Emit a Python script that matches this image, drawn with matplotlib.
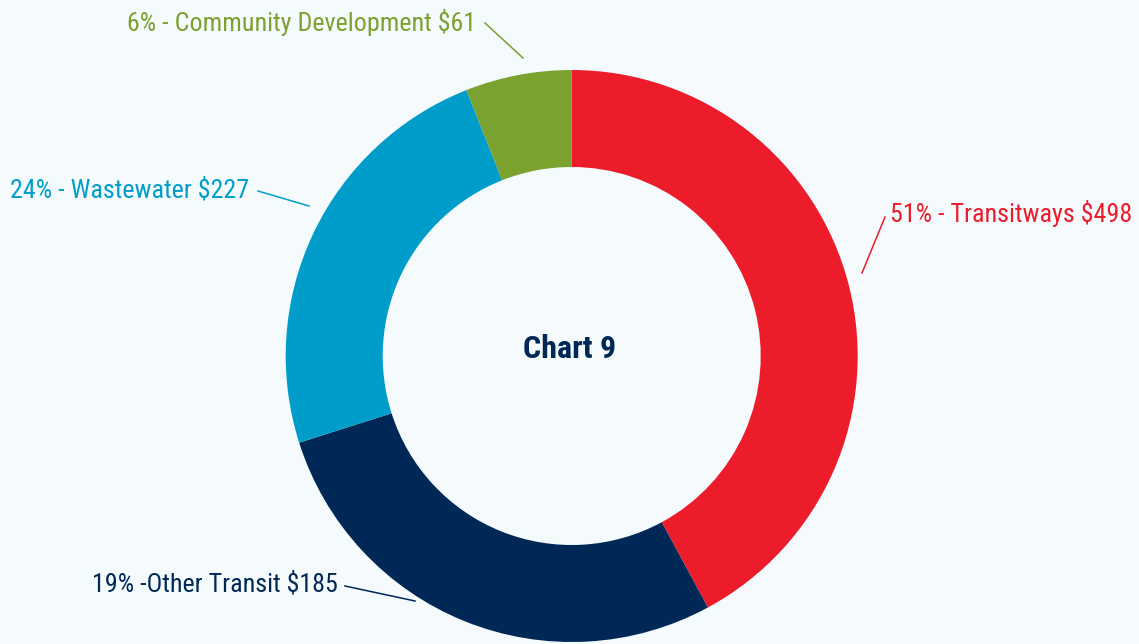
import matplotlib
matplotlib.use("Agg")
import matplotlib.pyplot as plt

# ---- data ----
categories = ["Transitways", "Other Transit", "Wastewater", "Community Development"]
amounts = [498, 185, 227, 61]
pct_labels = ["51%", "19%", "24%", "6%"]
# angular share of each slice as drawn in the chart (percent of the ring)
slice_shares = [42.1, 28.0, 23.9, 6.0]
label_texts = [
    "51% - Transitways $498",
    "19% -Other Transit $185",
    "24% - Wastewater $227",
    "6% - Community Development $61",
]
colors = ["#ED1C2B", "#002856", "#009DCB", "#7BA12F"]
title_text = "Chart 9"

bg = "#F5FAFD"
fam = ["Roboto Condensed", "DejaVu Sans"]

W, H = 1139, 644
fig = plt.figure(figsize=(W / 100, H / 100), dpi=100, facecolor=bg)
ax = fig.add_axes([0, 0, 1, 1])
ax.set_facecolor(bg)

cx, cy = 571.7, H - 356
r_out, r_in = 286, 189
ax.pie(slice_shares, colors=colors, startangle=90, counterclock=False,
       center=(cx, cy), radius=r_out, frame=True,
       wedgeprops=dict(width=r_out - r_in, linewidth=0))
ax.set_xlim(0, W)
ax.set_ylim(0, H)
ax.set_aspect("equal")
ax.axis("off")

fs = 18.7
# text x, text baseline y (pixels from top), leader start, leader end
label_layout = [
    (890, 222, (885, 217), (862, 273)),
    (92, 592, (345, 586), (415, 601)),
    (10, 197, (258, 191), (309, 206)),
    (127, 31, (485, 23), (523, 58)),
]
for txt, col, (tx, ty, p0, p1) in zip(label_texts, colors, label_layout):
    ax.text(tx, H - ty, txt, color=col, fontsize=fs, family=fam,
            ha="left", va="baseline")
    ax.plot([p0[0], p1[0]], [H - p0[1], H - p1[1]], color=col, lw=1.1)

ax.text(cx - 2, H - 358, title_text, color="#002856", fontsize=23, family=fam,
        fontweight="bold", ha="center", va="baseline")

fig.savefig("out.png", dpi=100, facecolor=bg)
